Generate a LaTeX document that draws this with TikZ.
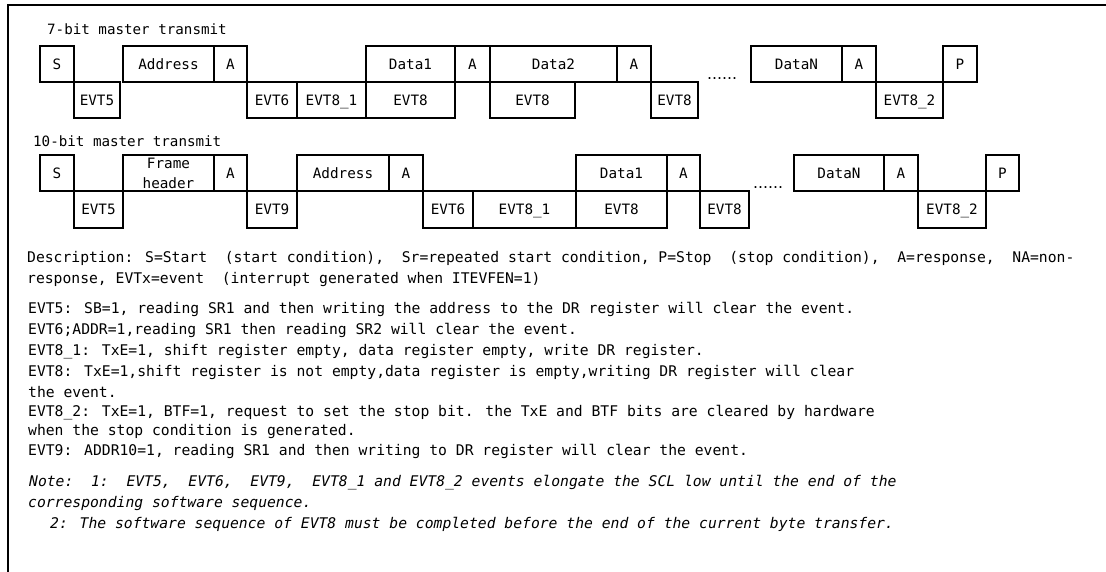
\documentclass[tikz,border=0pt]{standalone}
\usepackage{fontspec}
\newfontfamily\mono{DejaVu Sans Mono}
\newfontfamily\dotfont{DejaVu Sans}
\newcommand\bx[7][]{\node[box,minimum width={(#5)-(#3)},minimum height={(#6)-(#4)},#1] (#2) at ({((#3)+(#5))/2},{((#4)+(#6))/2}) {#7};}
\begin{document}
\begin{tikzpicture}[x=1pt,y=-1pt,
  box/.style={draw,line width=2.2pt,inner sep=0pt,outer sep=0pt,font=\mono\fontsize{14.3}{16}\selectfont,text height=10.2pt,text depth=0pt},
  lbl/.style={anchor=west,inner sep=0pt,font=\mono\fontsize{14.2}{16}\selectfont,text height=10.3pt,text depth=0pt},
  txt/.style={anchor=west,inner sep=0pt,font=\mono\fontsize{14.7}{17}\selectfont,text height=10.7pt,text depth=0pt},
  note/.style={txt,font=\mono\itshape\fontsize{14.7}{17}\selectfont},
  dotsx/.style={anchor=base west,inner sep=0pt,font=\dotfont\fontsize{15.7}{16}\selectfont},
  frameline/.style={line width=2pt}]
\useasboundingbox (0,0) rectangle (1106,572);
% frame
\coordinate (fbl) at (8.3,572);
\coordinate (ftl) at (8.3,4.8);
\coordinate (ftr) at (1106,4.8);
\draw[frameline] (fbl) -- (ftl) -- (ftr);
% row 1
\node[lbl] (lab7) at (47,29) {7-bit master transmit};
\bx{aS}{40}{46}{74}{82}{S}
\bx{aE5}{74}{82}{120}{118}{EVT5}
\bx{aAd}{123}{46}{214}{82}{Address}
\bx{aA1}{214}{46}{247}{82}{A}
\bx{aE6}{247}{82}{297}{118}{EVT6}
\bx{aE81}{297}{82}{366}{118}{EVT8\_1}
\bx{aD1}{366}{46}{455}{82}{Data1}
\bx{aE8a}{366}{82}{455}{118}{EVT8}
\bx{aA2}{455}{46}{490}{82}{A}
\bx{aD2}{490}{46}{617}{82}{Data2}
\bx{aE8b}{490}{82}{575}{118}{EVT8}
\bx{aA3}{617}{46}{651}{82}{A}
\bx{aE8c}{651}{82}{698}{118}{EVT8}
\node[dotsx] (adots) at (707,80) {......};
\bx{aDN}{751}{46}{842}{82}{DataN}
\bx{aA4}{842}{46}{876}{82}{A}
\bx{aE82}{876}{82}{943}{118}{EVT8\_2}
\bx{aP}{943}{46}{977}{82}{P}
% row 2
\node[lbl] (lab10) at (33,141) {10-bit master transmit};
\bx{bS}{40}{155}{74}{191}{S}
\bx{bE5}{74}{191}{123}{228}{EVT5}
\bx[align=center,text height=,font=\mono\fontsize{14.3}{20}\selectfont]{bFH}{123}{155}{214}{191}{Frame\\header}
\bx{bA1}{214}{155}{247}{191}{A}
\bx{bE9}{247}{191}{297}{228}{EVT9}
\bx{bAd}{297}{155}{389}{191}{Address}
\bx{bA2}{389}{155}{423}{191}{A}
\bx{bE6}{423}{191}{473}{228}{EVT6}
\bx{bE81}{473}{191}{576}{228}{EVT8\_1}
\bx{bD1}{576}{155}{667}{191}{Data1}
\bx{bE8a}{576}{191}{667}{228}{EVT8}
\bx{bA3}{667}{155}{700}{191}{A}
\bx{bE8b}{700}{191}{749}{228}{EVT8}
\node[dotsx] (bdots) at (753,189) {......};
\bx{bDN}{794}{155}{884}{191}{DataN}
\bx{bA4}{884}{155}{918}{191}{A}
\bx{bE82}{918}{191}{986}{228}{EVT8\_2}
\bx{bP}{986}{155}{1019}{191}{P}
% description
\node[txt] (t1) at (27,257) {Description: S=Start~~(start condition),~~Sr=repeated start condition, P=Stop~~(stop condition),~~A=response,~~NA=non-};
\node[txt] (t2) at (27,278) {response,~EVTx=event~~(interrupt generated when ITEVFEN=1)};
\node[txt] (t3) at (28,308) {EVT5: SB=1, reading SR1 and then writing the address to the DR register will clear the event.};
\node[txt] (t4) at (28,329) {EVT6;ADDR=1,reading SR1 then reading SR2 will clear the event.};
\node[txt] (t5) at (28,350) {EVT8\_1: TxE=1, shift register empty, data register empty, write DR register.};
\node[txt] (t6) at (28,371) {EVT8: TxE=1,shift register is not empty,data register is empty,writing DR register will clear};
\node[txt] (t7) at (28,392) {the event.};
\node[txt] (t8) at (28,411) {EVT8\_2: TxE=1, BTF=1, request to set the stop bit. the TxE and BTF bits are cleared by hardware};
\node[txt] (t9) at (28,430) {when the stop condition is generated.};
\node[txt] (t10) at (28,450) {EVT9: ADDR10=1, reading SR1 and then writing to DR register will clear the event.};
\node[note] (n1) at (29,481) {Note:~~1:~~EVT5,~~EVT6,~~EVT9,~~EVT8\_1 and EVT8\_2 events elongate the SCL low until the end of the};
\node[note] (n2) at (28,502) {corresponding software sequence.};
\node[note] (n3) at (50,523) {2: The software sequence of EVT8 must be completed before the end of the current byte transfer.};
\end{tikzpicture}
\end{document}
